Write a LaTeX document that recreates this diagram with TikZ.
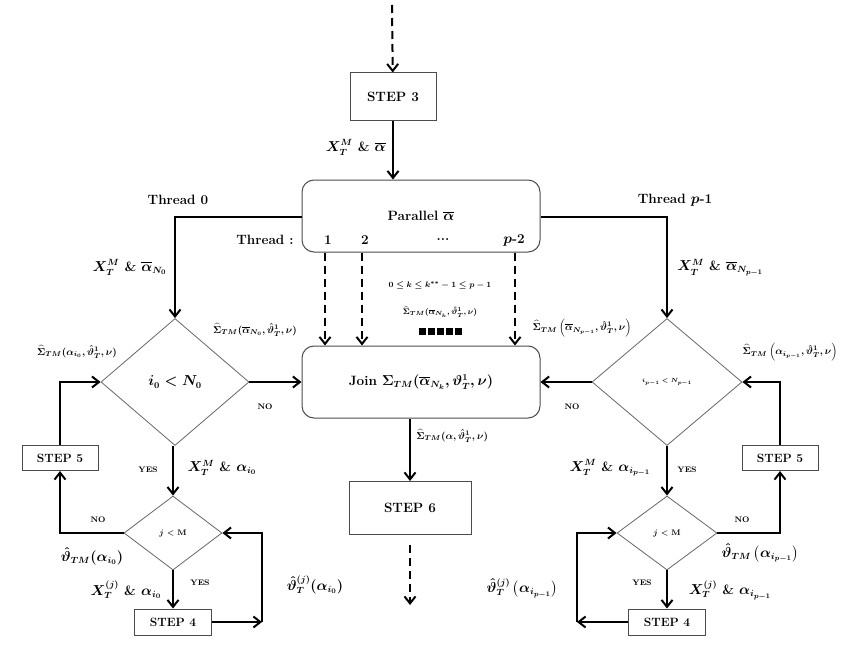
\documentclass[tikz,border=0pt]{standalone}
\usepackage{amsmath,amssymb}
\usetikzlibrary{shapes.geometric,arrows.meta}
\begin{document}
\begin{tikzpicture}[x=1pt,y=-1pt,
  font=\bfseries\boldmath\fontsize{12}{14}\selectfont,
  big/.style={font=\bfseries\boldmath\fontsize{13.5}{16}\selectfont},
  box/.style={draw=black!70,line width=1pt,minimum width=#1,inner sep=0pt},
  rbox/.style={draw=black!70,line width=1pt,rounded corners=12pt,minimum width=238,minimum height=72,inner sep=0pt},
  dia/.style={draw=black!60,line width=0.8pt,diamond,inner sep=0pt},
  ar/.style={line width=2pt,-{Straight Barb[length=7pt,width=11pt]}},
  da/.style={ar,dashed,dash pattern=on 8pt off 5pt},
  lb/.style={font=\bfseries\boldmath\fontsize{10}{12}\selectfont},
  sm/.style={font=\bfseries\boldmath\fontsize{8}{9}\selectfont}]
\useasboundingbox (0,0) rectangle (850,647);
\coordinate (top) at (392,5);
\node[box=86,minimum height=48,big] (s3) at (393,97) {STEP 3};
\node[rbox] (par) at (421,216) {};
\node[big] at (421,216) {Parallel $\overline{\alpha}$};
\node[big] at (265,240) {Thread :};
\node[big] at (328,240) {1};
\node[big] at (365,240) {2};
\node[big] at (443,240) {...};
\node[big] at (514,240) {$p$-2};
\node[rbox,big] (join) at (421,382) {Join $\Sigma_{TM}(\overline{\alpha}_{N_k},\vartheta^1_T,\nu)$};
\node[box=122,minimum height=53,big] (s6) at (410,508) {STEP 6};
\coordinate (bot) at (410,605);
\draw[da] (top) -- (s3);
\draw[ar] (s3.south) -- node[left=3pt,pos=0.45,big]{$X_T^M$ \& $\overline{\alpha}$} (s3.south |- par.north);
\foreach \x in {325,362,515}{\draw[da] (par.south -| \x,0) -- (join.north -| \x,0);}
\node[sm] at (440,285) {$0\le k\le k^{**}-1\le p-1$};
\node[sm] at (440,312) {$\widehat{\Sigma}_{TM}(\overline{\alpha}_{N_k},\hat{\vartheta}^1_T,\nu)$};
\node at (440,331) {\rule{7pt}{7pt}\,\rule{7pt}{7pt}\,\rule{7pt}{7pt}\,\rule{7pt}{7pt}\,\rule{7pt}{7pt}};
\draw[ar] (join.south -| s6) -- node[right=2pt,lb,pos=0.28]{$\widehat{\Sigma}_{TM}(\alpha,\hat{\vartheta}^1_T,\nu)$} (s6);
\draw[da] (s6.south) ++(0,10) coordinate (s6b) (s6b) -- (bot);
% left
\node[dia,minimum width=148,minimum height=127,big] (d0) at (175,382) {$i_0<N_0$};
\node[dia,minimum width=98,minimum height=74,sm] (j0) at (173,533) {$j$ < M};
\node[box=76,minimum height=25] (s50) at (60,458) {STEP 5};
\node[box=77,minimum height=26] (s40) at (173,622) {STEP 4};
\node[big] at (178,200) {Thread 0};
\draw[ar] (par.west |- 0,217) -| node[pos=0.75,left=4pt,big]{$X_T^M$ \& $\overline{\alpha}_{N_0}$} (d0.north);
\draw[ar] (d0.east) -- (join.west);
\node[sm] at (265,407) {NO};
\node[lb] at (255,330) {$\widehat{\Sigma}_{TM}(\overline{\alpha}_{N_0},\hat{\vartheta}^1_T,\nu)$};
\draw[ar] (s50.north) |- (d0.west);
\node[lb] at (77,352) {$\widehat{\Sigma}_{TM}(\alpha_{i_0},\hat{\vartheta}^1_T,\nu)$};
\draw[ar] (d0.south -| j0) -- (j0.north);
\node[sm] at (148,470) {YES};
\node[big] at (222,468) {$X_T^M$ \& $\alpha_{i_0}$};
\draw[ar] (j0.west) -| (s50.south);
\node[sm] at (98,520) {NO};
\node[big] at (92,556) {$\hat{\vartheta}_{TM}(\alpha_{i_0})$};
\draw[ar] (j0.south) -- (s40.north);
\node[sm] at (200,583) {YES};
\node[big] at (126,590) {$X_T^{(j)}$ \& $\alpha_{i_0}$};
\coordinate (c0) at (262,622);
\draw[ar] (s40.east) -- (c0);
\draw[ar] (c0) |- (j0.east);
\node[big] at (315,585) {$\hat{\vartheta}_T^{(j)}(\alpha_{i_0})$};
% right
\node[dia,minimum width=150,minimum height=127] (d1) at (667,382) {\fontsize{6}{7}\selectfont $i_{p-1}<N_{p-1}$};
\node[dia,minimum width=100,minimum height=74,sm] (j1) at (667,533) {$j$ < M};
\node[box=76,minimum height=25] (s51) at (780,458) {STEP 5};
\node[box=77,minimum height=26] (s41) at (667,622) {STEP 4};
\node[big] at (675,200) {Thread $p$-1};
\draw[ar] (par.east |- 0,217) -| node[pos=0.75,right=6pt,big]{$X_T^M$ \& $\overline{\alpha}_{N_{p-1}}$} (d1.north);
\draw[ar] (d1.west) -- (join.east);
\node[sm] at (572,407) {NO};
\node[lb] at (582,328) {$\widehat{\Sigma}_{TM}\left(\overline{\alpha}_{N_{p-1}},\hat{\vartheta}^1_T,\nu\right)$};
\draw[ar] (s51.north) |- (d1.east);
\node[lb] at (790,352) {$\widehat{\Sigma}_{TM}\left(\alpha_{i_{p-1}},\hat{\vartheta}^1_T,\nu\right)$};
\draw[ar] (d1.south) -- (j1.north);
\node[sm] at (687,470) {YES};
\node[big] at (610,468) {$X_T^M$ \& $\alpha_{i_{p-1}}$};
\draw[ar] (j1.east) -| (s51.south);
\node[sm] at (742,520) {NO};
\node[big] at (760,553) {$\hat{\vartheta}_{TM}\left(\alpha_{i_{p-1}}\right)$};
\draw[ar] (j1.south) -- (s41.north);
\node[sm] at (642,583) {YES};
\node[big] at (730,590) {$X_T^{(j)}$ \& $\alpha_{i_{p-1}}$};
\coordinate (c1) at (577,622);
\draw[ar] (s41.west) -- (c1);
\draw[ar] (c1) |- (j1.west);
\node[big] at (522,588) {$\hat{\vartheta}_T^{(j)}\left(\alpha_{i_{p-1}}\right)$};
\end{tikzpicture}
\end{document}
